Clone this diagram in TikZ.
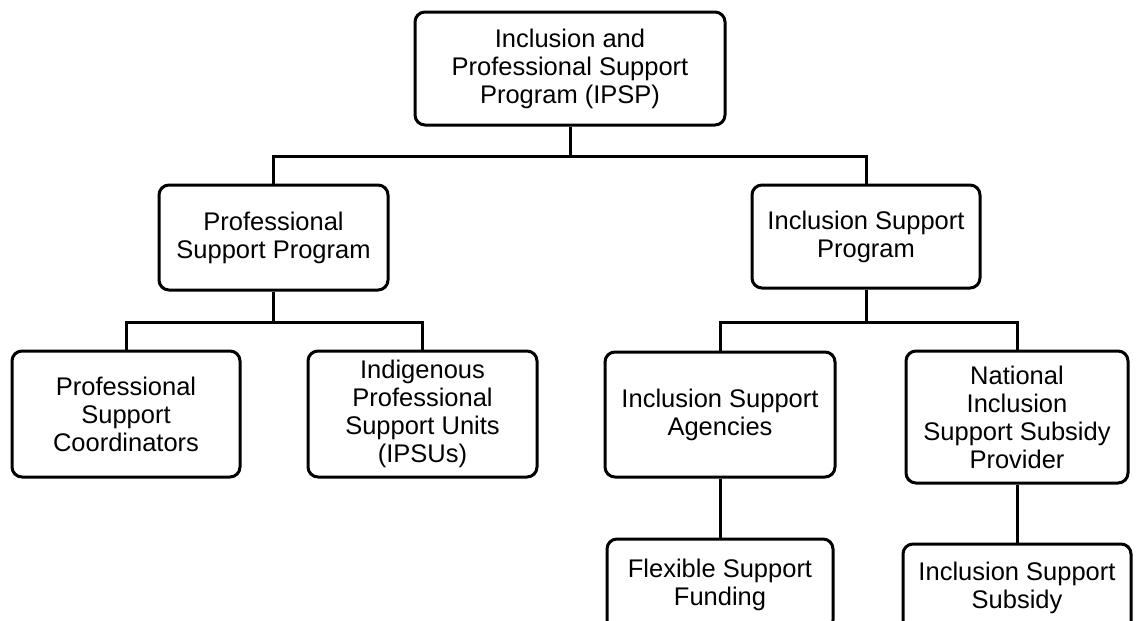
\documentclass[tikz,border=0pt]{standalone}
\usepackage{fontspec}
\setmainfont{Liberation Sans}
\usetikzlibrary{positioning}

\begin{document}
\begin{tikzpicture}[x=1pt,y=-1pt,line width=3pt,
                    main node/.style={rectangle,draw,rounded corners=10pt,align=center,
                      inner sep=2pt,font=\fontsize{25.5}{28}\selectfont}]

  \useasboundingbox[fill=white] (0,0) rectangle (1136,621);

  \node[main node,minimum width=310pt,minimum height=113pt] (ipsp) at (570,68.5) {Inclusion and\\Professional Support\\Program (IPSP)};
  \node[main node,minimum width=229pt,minimum height=105pt] (psp) at (273.5,237.5) {Professional\\Support Program};
  \node[main node,minimum width=228pt,minimum height=103pt] (isp) at (866,236.5) {Inclusion Support\\Program};
  \node[main node,minimum width=228pt,minimum height=126pt] (psc) at (126,414) {Professional\\Support\\Coordinators};
  \node[main node,minimum width=229pt,minimum height=126pt] (ipsu) at (422.5,414) {Indigenous\\Professional\\Support Units\\(IPSUs)};
  \node[main node,minimum width=230pt,minimum height=125pt] (isa) at (720,414.5) {Inclusion Support\\Agencies};
  \node[main node,minimum width=222pt,minimum height=132pt] (nissp) at (1017,417) {National\\Inclusion\\Support Subsidy\\Provider};
  \node[main node,minimum width=226pt,minimum height=91pt] (fsf) at (720,584.5) {Flexible Support\\Funding};
  \node[main node,minimum width=228pt,minimum height=88pt] (iss) at (1017,588) {Inclusion Support\\Subsidy};

  \draw (ipsp.south) -- ++(0,30) -| (psp.north);
  \draw (ipsp.south) -- ++(0,30) -| (isp.north);
  \draw (psp.south) -- ++(0,31) -| (psc.north);
  \draw (psp.south) -- ++(0,31) -| (ipsu.north);
  \draw (isp.south) -- ++(0,33) -| (isa.north);
  \draw (isp.south) -- ++(0,33) -| (nissp.north);
  \draw (isa) -- (fsf);
  \draw (nissp) -- (iss);
\end{tikzpicture}
\end{document}
